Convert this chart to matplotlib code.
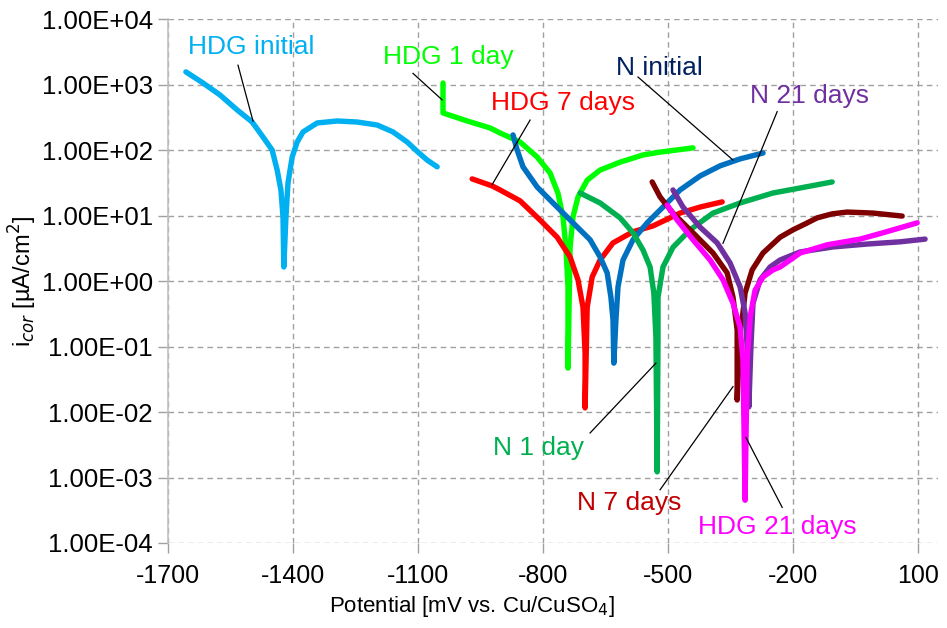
import numpy as np
import matplotlib
matplotlib.use("Agg")
import matplotlib.pyplot as plt
from matplotlib.ticker import FuncFormatter, FixedLocator, NullLocator

plt.rcParams['font.family'] = ['Liberation Sans', 'DejaVu Sans']
plt.rcParams['axes.unicode_minus'] = False

# --- data: potential [mV] and current density [uA/cm2] ---
hdg_initial_x = [-1657, -1616, -1575, -1534, -1498, -1472, -1450, -1438, -1429, -1424, -1422,
                 -1417, -1412, -1402, -1390, -1376, -1342, -1294, -1246, -1198, -1160,
                 -1126, -1100, -1078, -1054]
hdg_initial_y = [1580, 1070, 700, 414, 271, 160, 101, 50, 24.8, 9.6, 1.65,
                 9.6, 31.8, 79, 134, 191, 262, 281, 271, 244, 191,
                 134, 94, 71, 56]

hdg_1day_x = [-1040, -1040, -982, -927, -903, -855, -814, -783, -764, -752, -745, -740, -740,
              -735, -728, -716, -694, -663, -615, -560, -519, -440]
hdg_1day_y = [1070, 373, 281, 220, 184, 134, 79, 45, 22, 9.6, 3.3, 0.82, 0.047,
              3.3, 9.6, 19.4, 35, 50, 66, 85, 94, 109]

hdg_7days_x = [-970, -922, -903, -855, -807, -766, -735, -716, -704, -699, -699,
               -694, -682, -663, -632, -584, -536, -471, -423, -370]
hdg_7days_y = [36.6, 28.6, 24.8, 16.9, 8.6, 4.7, 2.35, 1.05, 0.40, 0.080, 0.0116,
               0.40, 1.16, 2.11, 3.85, 5.7, 7.0, 11.0, 13.6, 16.3]

n_initial_x = [-872, -862, -848, -814, -776, -728, -687, -663, -646, -637, -632, -630,
               -625, -620, -608, -584, -550, -512, -471, -423, -375, -327, -272]
n_initial_y = [172, 101, 56, 27.5, 15.7, 7.8, 4.3, 2.35, 1.34, 0.57, 0.256, 0.056,
               0.256, 0.82, 2.11, 4.3, 7.8, 13.6, 24.8, 40.6, 58, 74, 91]

n_1day_x = [-711, -663, -615, -584, -560, -543, -534, -529, -526,
            -524, -524, -512, -488, -447, -392, -327, -248, -183, -106]
n_1day_y = [22.3, 15.7, 9.3, 5.5, 3.0, 1.65, 0.66, 0.14, 0.00122,
            0.14, 0.57, 1.65, 3.3, 6.1, 11, 15.7, 22.3, 26.6, 32.9]

n_7days_x = [-538, -519, -488, -440, -392, -358, -344, -334, -334,
             -327, -322, -315, -298, -272, -231, -200, -171, -142, -106, -70, -8, 62]
n_7days_y = [32.9, 19.4, 11.0, 5.5, 2.7, 1.34, 0.57, 0.18, 0.0153,
             0.18, 0.256, 0.66, 1.49, 2.7, 4.7, 6.1, 7.5, 9.3, 10.7, 11.4, 11.0, 9.9]

n_21days_x = [-488, -464, -423, -382, -351, -327, -315, -310, -306,
              -301, -296, -279, -255, -231, -183, -104, -22, 57, 117]
n_21days_y = [24.8, 13.6, 6.7, 3.85, 1.90, 0.82, 0.33, 0.099, 0.012,
              0.099, 0.46, 1.05, 1.65, 2.11, 2.8, 3.34, 3.7, 4.0, 4.4]

hdg_21days_x = [-502, -478, -440, -399, -368, -344, -327, -320, -315,
                -310, -303, -291, -272, -248, -231, -183, -118, -39, 16, 98]
hdg_21days_y = [14.6, 8.6, 4.3, 2.11, 1.05, 0.46, 0.20, 0.063, 0.00045,
                0.063, 0.28, 0.73, 1.16, 1.49, 1.65, 2.7, 3.6, 4.4, 5.5, 7.8]

x_ticks = [-1700, -1400, -1100, -800, -500, -200, 100]
y_ticks = [1e-4, 1e-3, 1e-2, 1e-1, 1e0, 1e1, 1e2, 1e3, 1e4]

# series: (x, y, line colour, label, label colour, text pos, leader from, leader to)
series = [
    (hdg_initial_x, hdg_initial_y, '#00B0F0', 'HDG initial', '#00B0F0',
     (-1652, 3800), (-1532, 2000), (-1496, 280)),
    (hdg_1day_x, hdg_1day_y, '#00FF00', 'HDG 1 day', '#00FF00',
     (-1184, 2700), (-1112, 1500), (-1042, 590)),
    (hdg_7days_x, hdg_7days_y, '#FF0000', 'HDG 7 days', '#FF0000',
     (-925, 525), (-831, 290), (-922, 30)),
    (n_initial_x, n_initial_y, '#0070C0', 'N initial', '#002060',
     (-625, 1800), (-572, 1320), (-344, 71)),
    (n_1day_x, n_1day_y, '#00B050', 'N 1 day', '#00B050',
     (-920, 0.0028), (-687, 0.0048), (-529, 0.056)),
    (n_7days_x, n_7days_y, '#7F0000', 'N 7 days', '#C00000',
     (-718, 0.00041), (-519, 0.00065), (-344, 0.0245)),
    (n_21days_x, n_21days_y, '#7030A0', 'N 21 days', '#7030A0',
     (-303, 680), (-238, 390), (-368, 3.8)),
    (hdg_21days_x, hdg_21days_y, '#FF00FF', 'HDG 21 days', '#FF00FF',
     (-428, 0.000174), (-226, 0.00035), (-313, 0.0041)),
]

fig = plt.figure(figsize=(9.47, 6.28), dpi=100)
ax = fig.add_axes([0.1774, 0.1354, 0.8131, 0.8336])

for x, y, col, label, tcol, tpos, p0, p1 in series:
    ax.plot(x, y, color=col, lw=3.9, solid_capstyle='round', solid_joinstyle='round', zorder=3)

for x, y, col, label, tcol, tpos, p0, p1 in series:
    ax.plot([p0[0], p1[0]], [p0[1], p1[1]], color='black', lw=0.9, zorder=4)
    ax.text(tpos[0], tpos[1], label, color=tcol, fontsize=19, va='center', ha='left', zorder=5)

ax.set_yscale('log')
ax.set_xlim(-1700, 148)
ax.set_ylim(1e-4, 1e4)
ax.xaxis.set_major_locator(FixedLocator(x_ticks))
ax.yaxis.set_major_locator(FixedLocator(y_ticks))
ax.yaxis.set_minor_locator(NullLocator())
ax.yaxis.set_major_formatter(FuncFormatter(lambda v, p: f"{v:.2E}"))

ax.grid(True, which='major', color='#A0A0A0', linestyle=(0, (4, 3)), lw=1.0, zorder=0)
for s in ['top', 'right', 'bottom']:
    ax.spines[s].set_visible(False)
ax.spines['left'].set_color('#C0C0C0')
ax.spines['left'].set_linewidth(1.2)
ax.tick_params(axis='both', colors='#A0A0A0', labelcolor='black', length=7, width=1.0)
ax.tick_params(axis='x', labelsize=18, pad=8)
ax.tick_params(axis='y', labelsize=18.5, pad=4)

ax.set_xlabel('Potential [mV vs. Cu/CuSO$_4$]', fontsize=16)
ax.xaxis.set_label_coords(0.394, -0.098)
ax.set_ylabel('i$_{cor}$ [µA/cm$^2$]', fontsize=17, labelpad=2)

fig.savefig('out.png', dpi=100)
